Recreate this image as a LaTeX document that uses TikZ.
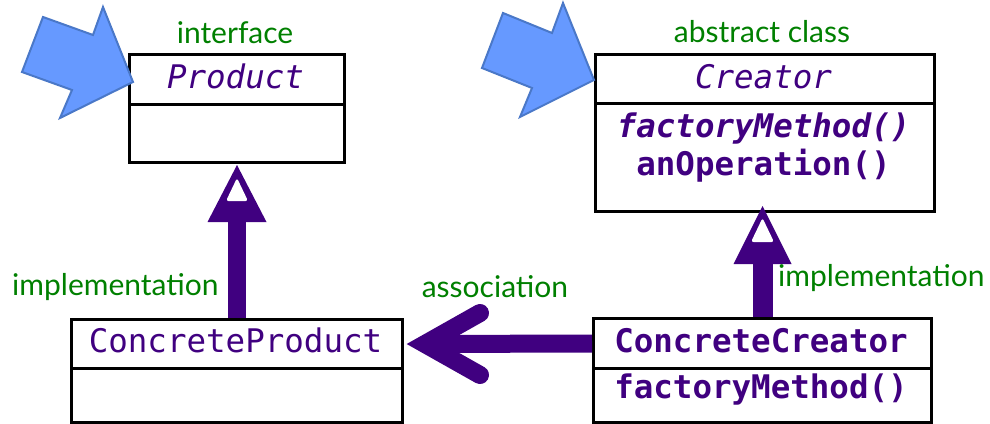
\documentclass[tikz,border=0pt]{standalone}
\usepackage{fontspec}
\setmainfont{Lato}
\newfontfamily\monof{DejaVu Sans Mono}[ItalicFont={DejaVu Sans Mono Oblique},BoldFont={DejaVu Sans Mono Bold},BoldItalicFont={DejaVu Sans Mono Bold Oblique}]
\usetikzlibrary{calc}
\definecolor{umlpurple}{RGB}{64,0,128}
\definecolor{lblgreen}{RGB}{0,128,0}
\definecolor{bluefill}{RGB}{102,153,255}
\definecolor{blueedge}{RGB}{74,120,200}
\begin{document}
\begin{tikzpicture}[x=1pt,y=-1pt,
  comp/.style={draw=black, line width=3pt, inner sep=0pt, anchor=north west},
  mono/.style={font=\monof\fontsize{32.5}{36}\selectfont, text=umlpurple, anchor=base, inner sep=0pt},
  lbl/.style={font=\fontsize{30}{33}\selectfont, text=lblgreen, anchor=base, inner sep=0pt},
  bigarrow/.style={fill=bluefill, draw=blueedge, line width=2pt, line join=miter},
  assoc/.style={draw=umlpurple, line width=18pt}]
\useasboundingbox (0,0) rectangle (990,423);
\fill[white] (0,0) rectangle (990,423);

% Product
\node[comp, minimum width=215pt, minimum height=50pt] (pn) at (128,53) {};
\node[comp, minimum width=215pt, minimum height=58pt] (pb) at (128,103) {};
\node[mono] (pt) at (235.5,88) {\itshape Product};
\node[lbl] (il) at (235,43) {interface};

% Creator
\node[comp, minimum width=339pt, minimum height=49pt] (cn) at (594,53) {};
\node[comp, minimum width=339pt, minimum height=108pt] (cb) at (594,102) {};
\node[mono] (ct) at (763.5,88) {\itshape Creator};
\node[mono] (cm1) at (763.5,137) {\bfseries\itshape factoryMethod()};
\node[mono] (cm2) at (763.5,175) {\bfseries anOperation()};
\node[lbl] (al) at (762,42) {abstract class};

% ConcreteProduct
\node[comp, minimum width=331pt, minimum height=49pt] (cpn) at (70,318) {};
\node[comp, minimum width=331pt, minimum height=54pt] (cpb) at (70,367) {};
\node[mono] (cpt) at (235.5,352) {ConcreteProduct};

% ConcreteCreator
\node[comp, minimum width=338pt, minimum height=50pt] (ccn) at (592,317) {};
\node[comp, minimum width=338pt, minimum height=54pt] (ccb) at (592,367) {};
\node[mono] (cct) at (761,352) {\bfseries ConcreteCreator};
\node[mono] (ccm) at (761,398) {\bfseries factoryMethod()};

% implementation arrow (left)
\coordinate (lt) at ($(pb.south)+(0,1)$);
\draw[umlpurple, line width=18pt] (cpn.north) -- ($(lt)+(0,56)$);
\fill[umlpurple] (lt) -- ++(29.5,57) -- ++(-59,0) -- cycle;
\fill[white, rounded corners=2.5pt] ($(lt)+(0,13)$) -- ++(11,23) -- ++(-22,0) -- cycle;
\node[lbl, anchor=base west] (ll) at (12,295) {implementation};

% implementation arrow (right)
\coordinate (rt) at ($(ccn.north |- cb.south)+(0,-7)$);
\draw[umlpurple, line width=20pt] (ccn.north) -- ($(rt)+(0,57)$);
\fill[umlpurple] (rt) -- ++(29,58) -- ++(-58,0) -- cycle;
\fill[white, rounded corners=2.5pt] ($(rt)+(0,12)$) -- ++(11.5,24) -- ++(-23,0) -- cycle;
\node[lbl, anchor=base west] (rl) at (778,286) {implementation};

% association arrow
\coordinate (av) at ($(cpn.east)+(21,0)$);
\draw[assoc, line cap=butt] (ccn.west) -- (av);
\draw[assoc, line cap=round, line join=miter] ($(av)+(55,-31)$) -- (av) -- ($(av)+(55,31)$);
\node[lbl] (asl) at (495,297) {association};

% blue pointer arrows
\filldraw[bigarrow] (43,17) -- (93,35) -- (103,7) -- (133,82) -- (60,118) -- (72,90) -- (22,72) -- cycle;
\filldraw[bigarrow] (503,13) -- (552,33) -- (563,3) -- (594,80) -- (520,117) -- (532,88) -- (482,68) -- cycle;
\end{tikzpicture}
\end{document}
